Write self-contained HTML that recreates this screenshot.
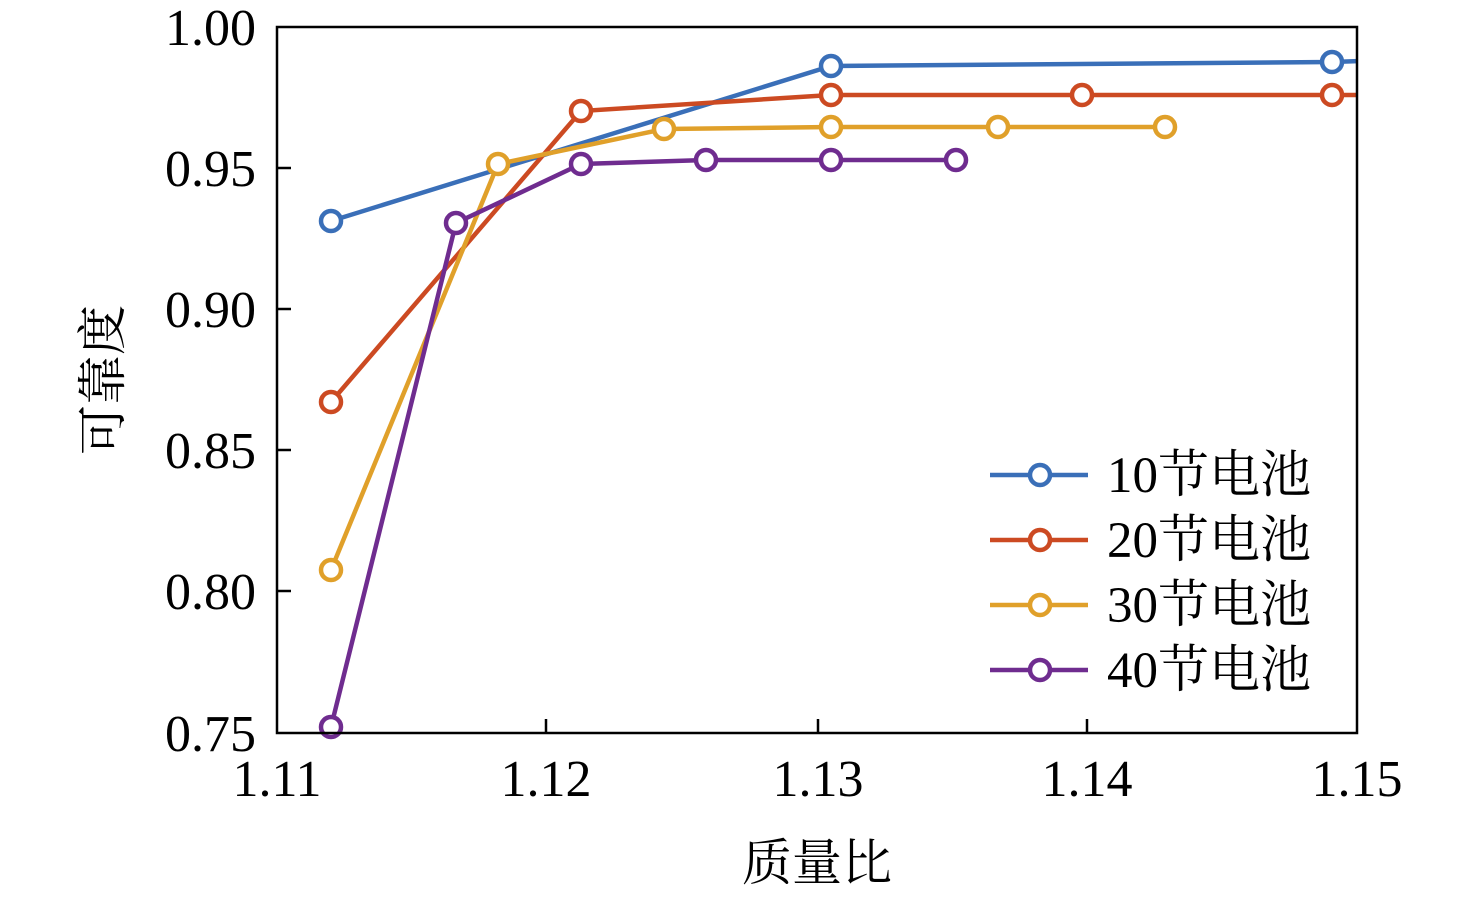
<!DOCTYPE html>
<html><head><meta charset="utf-8"><style>body{margin:0;background:#fff}</style></head><body>
<svg width="1476" height="897" xmlns="http://www.w3.org/2000/svg" font-family="'Liberation Serif','Noto Serif CJK SC',serif">
<defs><clipPath id="c"><rect x="277" y="20" width="1080" height="720"/></clipPath></defs>
<g clip-path="url(#c)" fill="#fff" stroke-width="4.5">
<g stroke="#3a6fb8"><polyline fill="none" points="331,221 831,66 1332,62 1360,61"/><circle cx="331" cy="221" r="10"/><circle cx="831" cy="66" r="10"/><circle cx="1332" cy="62" r="10"/></g>
<g stroke="#cc4a22"><polyline fill="none" points="331,402 581,111 831,95 1082,95 1332,95 1360,95"/><circle cx="331" cy="402" r="10"/><circle cx="581" cy="111" r="10"/><circle cx="831" cy="95" r="10"/><circle cx="1082" cy="95" r="10"/><circle cx="1332" cy="95" r="10"/></g>
<g stroke="#e0a02a"><polyline fill="none" points="331,570 498,164 664,129 831,127 998,127 1165,127"/><circle cx="331" cy="570" r="10"/><circle cx="498" cy="164" r="10"/><circle cx="664" cy="129" r="10"/><circle cx="831" cy="127" r="10"/><circle cx="998" cy="127" r="10"/><circle cx="1165" cy="127" r="10"/></g>
<g stroke="#6f2c8f"><polyline fill="none" points="331,727 456,223 581,164 706,160 831,160 956,160"/><circle cx="331" cy="727" r="10"/><circle cx="456" cy="223" r="10"/><circle cx="581" cy="164" r="10"/><circle cx="706" cy="160" r="10"/><circle cx="831" cy="160" r="10"/><circle cx="956" cy="160" r="10"/></g>
</g>
<rect x="277" y="27" width="1080" height="706" fill="none" stroke="#000" stroke-width="2.5"/>
<g stroke="#000" stroke-width="2.5">
<line x1="546" y1="733" x2="546" y2="719"/><line x1="818" y1="733" x2="818" y2="719"/><line x1="1087" y1="733" x2="1087" y2="719"/>
<line x1="277" y1="168" x2="291" y2="168"/><line x1="277" y1="309" x2="291" y2="309"/><line x1="277" y1="450" x2="291" y2="450"/><line x1="277" y1="591" x2="291" y2="591"/>
</g>
<g font-size="52" text-anchor="end">
<text x="256" y="45">1.00</text><text x="256" y="186">0.95</text><text x="256" y="327">0.90</text><text x="256" y="468">0.85</text><text x="256" y="609">0.80</text><text x="256" y="751">0.75</text>
</g>
<g font-size="52" text-anchor="middle">
<text x="277" y="796">1.11</text><text x="546" y="796">1.12</text><text x="818" y="796">1.13</text><text x="1087" y="796">1.14</text><text x="1357" y="796">1.15</text>
<text x="817" y="880" font-size="50">质量比</text>
</g>
<text transform="translate(120,380) rotate(-90)" font-size="50" text-anchor="middle">可靠度</text>
<g stroke-width="4.5" fill="#fff">
<g stroke="#3a6fb8"><line x1="990" y1="475" x2="1088" y2="475"/><circle cx="1040" cy="475" r="10"/></g>
<g stroke="#cc4a22"><line x1="990" y1="540" x2="1088" y2="540"/><circle cx="1040" cy="540" r="10"/></g>
<g stroke="#e0a02a"><line x1="990" y1="605" x2="1088" y2="605"/><circle cx="1040" cy="605" r="10"/></g>
<g stroke="#6f2c8f"><line x1="990" y1="670" x2="1088" y2="670"/><circle cx="1040" cy="670" r="10"/></g>
</g>
<g font-size="51">
<text x="1107" y="492">10节电池</text><text x="1107" y="557">20节电池</text><text x="1107" y="622">30节电池</text><text x="1107" y="687">40节电池</text>
</g>
</svg>
</body></html>
